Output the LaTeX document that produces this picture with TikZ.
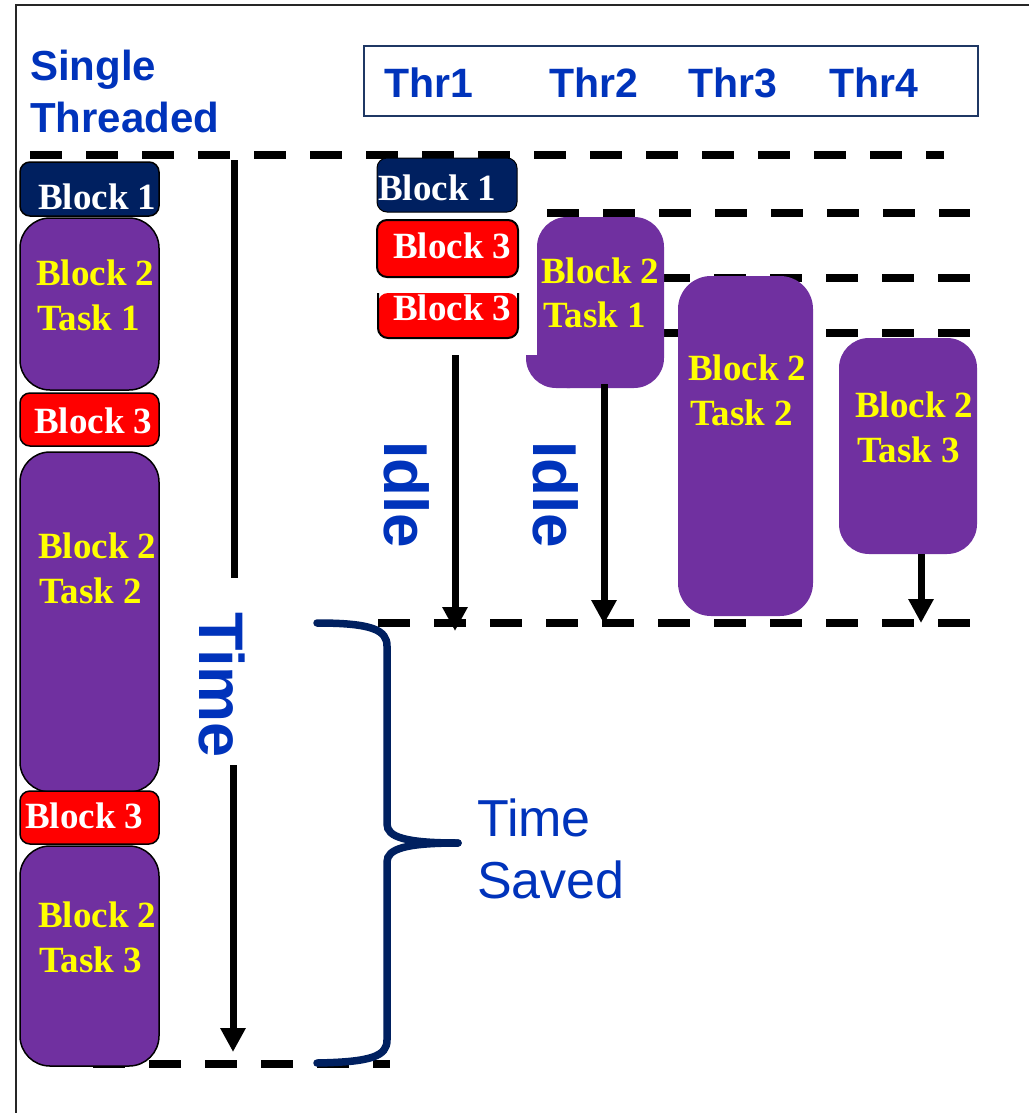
\documentclass[tikz,border=0pt]{standalone}
\usepackage{fontspec}
\setmainfont{Liberation Serif}
\setsansfont{Liberation Sans}
\usetikzlibrary{arrows.meta}
\definecolor{tblue}{HTML}{0033BB}
\definecolor{navy}{HTML}{002060}
\definecolor{purp}{HTML}{7030A0}
\definecolor{bred}{HTML}{FF0000}
\definecolor{byel}{HTML}{FFFF00}
\definecolor{frameblue}{HTML}{1F3864}
\newcommand{\blkfont}{\fontsize{37}{41}\selectfont\bfseries}
\begin{document}
\begin{tikzpicture}[x=1pt,y=-1pt,
  dline/.style={line width=7.5pt, dash pattern=on 32pt off 24pt},
  stbox/.style={draw=black, line width=1.5pt, inner sep=0pt, minimum width=139pt},
  navybox/.style={fill=navy, rounded corners=10pt},
  redbox/.style={fill=bred, rounded corners=10pt},
  purpbox/.style={fill=purp, rounded corners=30pt},
  btxt/.style={font=\blkfont, anchor=base west, inner sep=0pt},
  wtxt/.style={btxt, text=white},
  ytxt/.style={btxt, text=byel},
  arr/.style={line width=7pt, -{Triangle[width=24pt,length=24pt]}},
  rotlabel/.style={text=tblue, rotate=-90, inner sep=0pt, font=\sffamily\bfseries\fontsize{62}{70}\selectfont},
  headtxt/.style={text=tblue, anchor=base west, inner sep=0pt, font=\sffamily\bfseries\fontsize{42}{50}\selectfont},
  thrtxt/.style={text=tblue, anchor=base west, inner sep=0pt, font=\sffamily\bfseries\fontsize{41}{48}\selectfont},
  savtxt/.style={text=tblue, anchor=base west, inner sep=0pt, font=\sffamily\fontsize{52}{60}\selectfont}
]
\useasboundingbox (0,0) rectangle (1029,1113);
\fill[white] (0,0) rectangle (1029,1113);

% frame
\draw[line width=1.5pt, black!85] (1029,5) -- (16,5) -- (16,1113);

% headings
\node[headtxt] (st1) at (30,81) {Single};
\node[headtxt] (st2) at (30,132) {Threaded};
\node[draw=frameblue, line width=2pt, minimum width=614pt, minimum height=70pt, inner sep=0pt] (thrbox) at (671,81) {};
\node[thrtxt] (thr1) at (384,98) {Thr1};
\node[thrtxt] (thr2) at (549,98) {Thr2};
\node[thrtxt] (thr3) at (688,98) {Thr3};
\node[thrtxt] (thr4) at (829,98) {Thr4};

% dashed time lines
\draw[dline] (30,155) -- (944,155);
\draw[dline] (547,213) -- (970,213);
\draw[dline] (658,278) -- (970,278);
\draw[dline] (658,333) -- (970,333);
\draw[dline] (378,623) -- (970,623);
\draw[dline] (93,1064) -- (390,1064);

% single threaded column
\node[stbox, navybox, minimum height=54pt] (B1s) at (89.5,189) {};
\node[stbox, purpbox, minimum height=172pt] (T1s) at (89.5,304) {};
\node[stbox, redbox, minimum height=53pt] (B3sa) at (89.5,419.5) {};
\node[stbox, purpbox, minimum height=340pt] (T2s) at (89.5,622) {};
\node[stbox, redbox, minimum height=53pt] (B3sb) at (89.5,817.5) {};
\node[stbox, purpbox, minimum height=220pt] (T3s) at (89.5,956) {};

\node[wtxt] (tB1s) at (38,209) {Block 1};
\node[ytxt] (tT1sa) at (36,285) {Block 2};
\node[ytxt] (tT1sb) at (37,330) {Task 1};
\node[wtxt] (tB3sa) at (34,433) {Block 3};
\node[ytxt] (tT2sa) at (38,558) {Block 2};
\node[ytxt] (tT2sb) at (39,603) {Task 2};
\node[wtxt] (tB3sb) at (25,828) {Block 3};
\node[ytxt] (tT3sa) at (38,927) {Block 2};
\node[ytxt] (tT3sb) at (39,972) {Task 3};

% multi-threaded columns
\node[draw=black, line width=1pt, navybox, inner sep=0pt, minimum width=140pt, minimum height=54pt] (B1t) at (447,185) {};
\node[draw=black, line width=2pt, redbox, inner sep=0pt, minimum width=141pt, minimum height=57pt] (B3ta) at (447.5,248.5) {};
\fill[bred, rounded corners=10pt] (378,293) -- (378,338) -- (518,338) -- (518,293) -- cycle;
\draw[black, line width=2pt, rounded corners=10pt] (378,293) -- (378,338) -- (518,338) -- (518,293);
\coordinate (B3tb) at (448,338);

\node[purpbox, inner sep=0pt, minimum width=127pt, minimum height=171pt] (T1t) at (600.5,302.5) {};
\begin{scope}
  \clip (520,355) rectangle (600,392);
  \fill[purp, rounded corners=30pt] (526,300) rectangle (600,388);
\end{scope}
\node[purpbox, inner sep=0pt, minimum width=135pt, minimum height=340pt, rounded corners=33pt] (T2t) at (745.5,446) {};
\node[purpbox, inner sep=0pt, minimum width=138pt, minimum height=216pt] (T3t) at (908,446) {};

\node[wtxt] (tB1t) at (378,200) {Block 1};
\node[wtxt] (tB3ta) at (393,258) {Block 3};
\node[wtxt] (tB3tb) at (393,320) {Block 3};
\node[ytxt] (tT1ta) at (541,283) {Block 2};
\node[ytxt] (tT1tb) at (543,327) {Task 1};
\node[ytxt] (tT2ta) at (688,380) {Block 2};
\node[ytxt] (tT2tb) at (690,425) {Task 2};
\node[ytxt] (tT3ta) at (855,417) {Block 2};
\node[ytxt] (tT3tb) at (857,462) {Task 3};

% arrows
\coordinate (a1s) at (455,355);
\coordinate (a1e) at (455,631);
\coordinate (a2s) at (604,384);
\coordinate (a2e) at (604,624);
\coordinate (a4s) at (921,554);
\coordinate (a4e) at (921,623);
\draw[arr] (a1s) -- (a1e);
\draw[arr] (a2s) -- (a2e);
\draw[arr] (a4s) -- (a4e);

\node[rotlabel] (idle1) at (407,495) {Idle};
\node[rotlabel] (idle2) at (556,495) {Idle};

% time axis
\node[rotlabel, font=\sffamily\bfseries\fontsize{63}{70}\selectfont] (timelbl) at (222,685) {Time};
\coordinate (t0) at (234,160);
\coordinate (t1) at (234,578);
\coordinate (t2) at (233,765);
\coordinate (t3) at (233,1052);
\draw[line width=7pt] (t0) -- (t1);
\draw[arr] (t2) -- (t3);

% brace
\coordinate (br0) at (317,623);
\coordinate (brm) at (458,843);
\coordinate (br1) at (317,1063);
\draw[navy, line width=7.5pt, line cap=round]
  (br0) .. controls (372,623) and (387,630) .. (387,646) -- (387,824)
  .. controls (387,837) and (405,843) .. (brm);
\draw[navy, line width=7.5pt, line cap=round]
  (brm) .. controls (405,843) and (387,849) .. (387,862) -- (387,1040)
  .. controls (387,1056) and (372,1062) .. (br1);
\node[savtxt] (sv1) at (477,836) {Time};
\node[savtxt] (sv2) at (477,898) {Saved};
\end{tikzpicture}
\end{document}
